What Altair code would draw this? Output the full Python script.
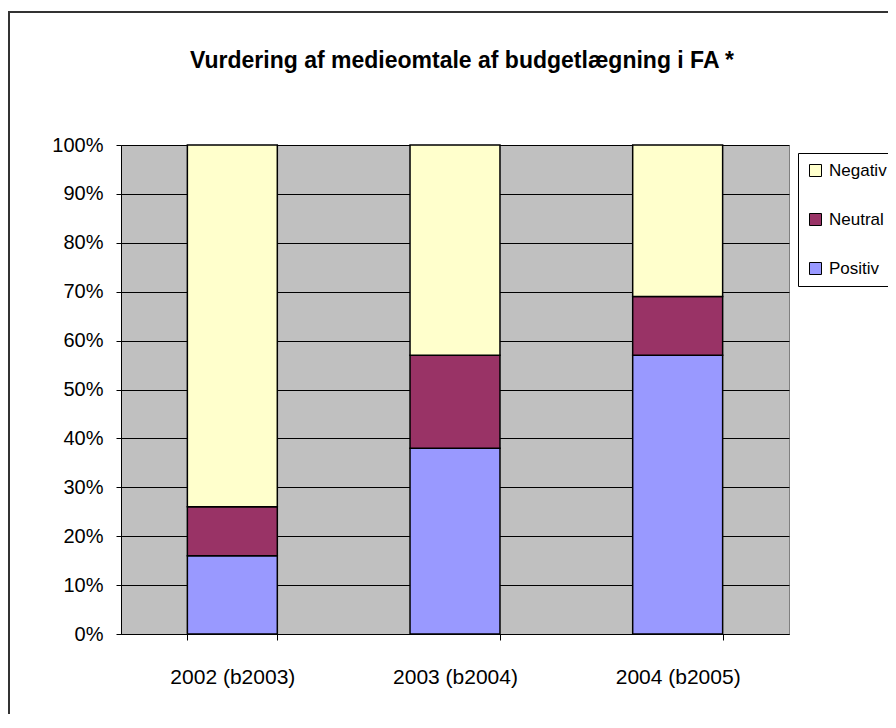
import altair as alt
import pandas as pd

categories = ["2002 (b2003)", "2003 (b2004)", "2004 (b2005)"]
series = ["Negativ", "Neutral", "Positiv"]
positiv = [16, 38, 57]
neutral = [10, 19, 12]
negativ = [74, 43, 31]
colors = ["#FFFFCC", "#993366", "#9999FF"]
stack_order = {"Positiv": 0, "Neutral": 1, "Negativ": 2}
title_text = "Vurdering af medieomtale af budgetlægning i FA *"

rows = []
for i, c in enumerate(categories):
    for name, vals in (("Positiv", positiv), ("Neutral", neutral), ("Negativ", negativ)):
        rows.append({"cat": c, "series": name, "value": vals[i], "ord": stack_order[name]})
df = pd.DataFrame(rows)

FONT = "Liberation Sans, Arial"

bars = alt.Chart(df).mark_bar(stroke="black", strokeWidth=1.5).encode(
    x=alt.X("cat:N", sort=categories,
            scale=alt.Scale(paddingInner=0.596, paddingOuter=0.298),
            axis=alt.Axis(title=None, labelAngle=0, tickBand="extent", tickSize=6,
                          labelPadding=26, domainColor="black", tickColor="black",
                          labelColor="black", labelFont=FONT, labelFontSize=21,
                          grid=False)),
    y=alt.Y("value:Q", stack="normalize",
            scale=alt.Scale(domain=[0, 1]),
            axis=alt.Axis(title=None, format=".0%", values=[i / 10 for i in range(11)],
                          tickSize=5, labelPadding=13, domainColor="black",
                          tickColor="black", labelColor="black", labelFont=FONT,
                          labelFontSize=20, grid=True, gridColor="black",
                          gridOpacity=1, gridWidth=1)),
    color=alt.Color("series:N",
                    scale=alt.Scale(domain=series, range=colors),
                    legend=alt.Legend(title=None, orient="none", legendX=677, legendY=8,
                                      symbolType="square", symbolSize=144,
                                      symbolStrokeColor="black", symbolStrokeWidth=1,
                                      symbolOpacity=1,
                                      labelFont=FONT, labelFontSize=17, labelColor="black",
                                      labelOffset=5, rowPadding=31, padding=9,
                                      strokeColor="black", fillColor="white",
                                      cornerRadius=0)),
    order=alt.Order("ord:Q"),
)

frame_df = pd.DataFrame({"k": [0]})
frame_top = alt.Chart(frame_df).mark_rule(color="#333333", strokeWidth=2).encode(
    x=alt.value(-113), x2=alt.value(790), y=alt.value(-133))
frame_left = alt.Chart(frame_df).mark_rule(color="#333333", strokeWidth=2).encode(
    x=alt.value(-112), y=alt.value(-133), y2=alt.value(600))
title = alt.Chart(frame_df).mark_text(
    text=title_text, font=FONT, fontSize=23, fontWeight="bold", color="black",
    align="center", baseline="alphabetic").encode(
    x=alt.value(341), y=alt.value(-77))

chart = alt.layer(bars, frame_top, frame_left, title).properties(
    width=668,
    height=489,
    autosize=alt.AutoSizeParams(type="none"),
    padding={"left": 113, "top": 137, "right": 99, "bottom": 80},
    background="white",
).configure_view(fill="#C0C0C0", stroke="#808080", strokeWidth=1)

chart.save("out.html", embed_options={"renderer": "svg", "actions": False})
